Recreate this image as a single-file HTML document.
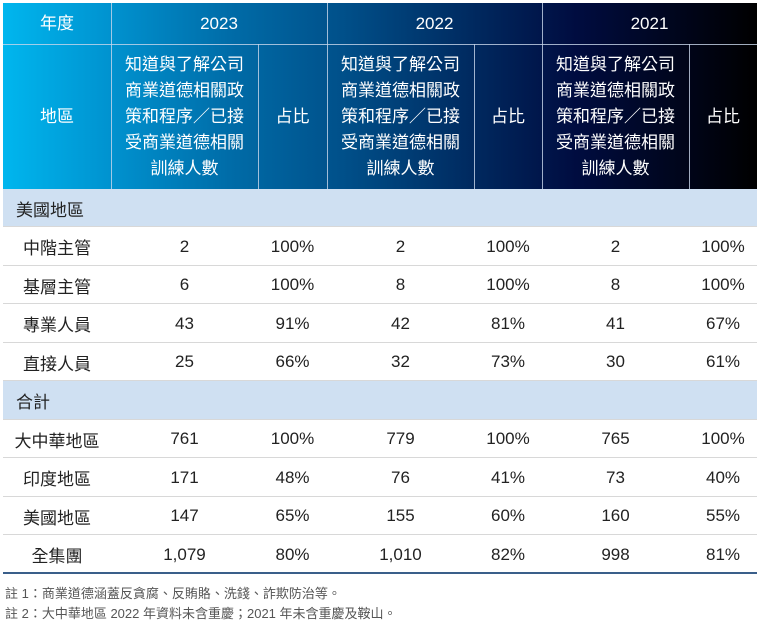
<!DOCTYPE html>
<html><head><meta charset="utf-8"><style>
body{margin:0;width:763px;height:626px;background:#fff;font-family:"Liberation Sans","Noto Sans CJK TC",sans-serif;position:relative;overflow:hidden}
.hdr{position:absolute;left:3px;top:3px;width:754px;height:186px;background:linear-gradient(90deg,#00b6ee 0%,#0093d0 14%,#006ca8 30%,#00508a 45%,#002a60 62%,#000c40 76%,#000 100%)}
.c{position:absolute;display:flex;align-items:center;justify-content:center;text-align:center;box-sizing:border-box}
.h{color:#fff;font-size:17px;line-height:26px}
.vl{position:absolute;width:1px;background:rgba(200,215,235,0.8)}
.hl{position:absolute;height:1px;background:rgba(200,215,235,0.8)}
.row{position:absolute;left:3px;width:754px;border-bottom:1px solid #d8d8d8;box-sizing:border-box}
.sec{background:#cfe0f2}
.t{font-size:17px;color:#222}
.note{position:absolute;left:5px;font-size:13px;color:#555}
</style></head><body>
<div class="hdr"></div>
<div class="hl" style="left:3px;top:44px;width:754px"></div>
<div class="vl" style="left:111px;top:3px;height:186px"></div>
<div class="vl" style="left:327px;top:3px;height:186px"></div>
<div class="vl" style="left:542px;top:3px;height:186px"></div>
<div class="vl" style="left:258px;top:44px;height:145px"></div>
<div class="vl" style="left:474px;top:44px;height:145px"></div>
<div class="vl" style="left:689px;top:44px;height:145px"></div>
<div class="c h" style="left:3px;top:3px;width:108px;height:41px">年度</div>
<div class="c h" style="left:111px;top:3px;width:216px;height:41px">2023</div>
<div class="c h" style="left:327px;top:3px;width:215px;height:41px">2022</div>
<div class="c h" style="left:542px;top:3px;width:215px;height:41px">2021</div>
<div class="c h" style="left:3px;top:44px;width:108px;height:145px">地區</div>
<div class="c h" style="left:111px;top:44px;width:147px;height:145px">知道與了解公司<br>商業道德相關政<br>策和程序／已接<br>受商業道德相關<br>訓練人數</div>
<div class="c h" style="left:258px;top:44px;width:69px;height:145px">占比</div>
<div class="c h" style="left:327px;top:44px;width:147px;height:145px">知道與了解公司<br>商業道德相關政<br>策和程序／已接<br>受商業道德相關<br>訓練人數</div>
<div class="c h" style="left:474px;top:44px;width:68px;height:145px">占比</div>
<div class="c h" style="left:542px;top:44px;width:147px;height:145px">知道與了解公司<br>商業道德相關政<br>策和程序／已接<br>受商業道德相關<br>訓練人數</div>
<div class="c h" style="left:689px;top:44px;width:68px;height:145px">占比</div>
<div id="body"></div>
<div class="note" style="top:583px">註 1：商業道德涵蓋反貪腐、反賄賂、洗錢、詐欺防治等。</div>
<div class="note" style="top:603px">註 2：大中華地區 2022 年資料未含重慶；2021 年未含重慶及鞍山。</div>
<script>
const rowLabels=["美國地區","中階主管","基層主管","專業人員","直接人員","合計","大中華地區","印度地區","美國地區","全集團"];
const sectionRows=[0,5];
const values=[null,["2","100%","2","100%","2","100%"],["6","100%","8","100%","8","100%"],["43","91%","42","81%","41","67%"],["25","66%","32","73%","30","61%"],null,["761","100%","779","100%","765","100%"],["171","48%","76","41%","73","40%"],["147","65%","155","60%","160","55%"],["1,079","80%","1,010","82%","998","81%"]];
const colL=[111,258,327,474,542,689],colW=[147,69,147,68,147,68];
const tops=[189,227,266,304,343,381,420,458,497,535,574];
const b=document.getElementById('body');
rowLabels.forEach((lab,i)=>{
  const r=document.createElement('div');
  
  
  r.className='row'+(sectionRows.includes(i)?' sec':'');
  r.style.top=tops[i]+'px';r.style.height=(tops[i+1]-tops[i])+'px';
  if(i===rowLabels.length-1)r.style.borderBottom='2px solid #3a5f8a';
  b.appendChild(r);
  const l=document.createElement('div');
  
  
  l.className='c t';l.textContent=lab;
  l.style.cssText+='left:'+(sectionRows.includes(i)?16:3)+'px;top:'+tops[i]+'px;height:'+(tops[i+1]-tops[i])+'px;'+(sectionRows.includes(i)?'justify-content:flex-start;':'width:108px;');
  b.appendChild(l);
  if(values[i])values[i].forEach((v,j)=>{
    const c=document.createElement('div');
    
    
    c.className='c t';c.textContent=v;
    c.style.cssText+='left:'+colL[j]+'px;width:'+colW[j]+'px;top:'+tops[i]+'px;height:'+(tops[i+1]-tops[i])+'px;';
    b.appendChild(c);
  });
});
</script>
</body></html>
